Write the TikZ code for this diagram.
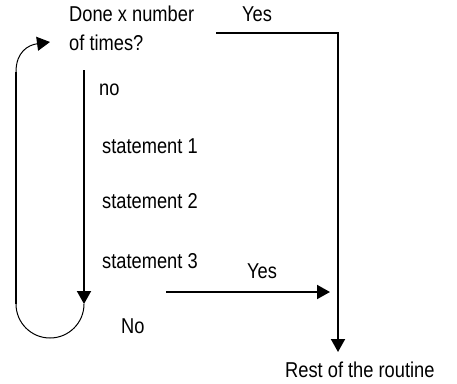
\documentclass[tikz,border=0pt]{standalone}
\usepackage{fontspec}
\setmainfont{Liberation Sans}[FakeStretch=0.85]
\usetikzlibrary{arrows.meta,positioning}
\tikzset{
    %Define standard arrow tip
    >={Triangle[length=13pt,width=14pt]},
    %Define style for the texts
    lbl/.style={
           inner sep=0pt,
           anchor=base west,
           align=left,
           font=\fontsize{21.5}{29}\selectfont},
    % Define line styles
    flow/.style={
           line width=1.9pt},
    roundline/.style={
           line width=1pt}
}
\begin{document}
\begin{tikzpicture}[x=1pt,y=-1pt]
\useasboundingbox (0,0) rectangle (457,383);
\node[lbl](done) at (69,50){Done x number\\of times?};
\node[lbl](yes1) at (242,21){Yes};
\node[lbl](no1) at (99,95){no};
\node[lbl](st1) at (102,153){statement 1};
\node[lbl](st2) at (102,208){statement 2};
\node[lbl](st3) at (102,268){statement 3};
\node[lbl](yes2) at (247,278){Yes};
\node[lbl](no2) at (121,333){No};
\node[lbl](rest) at (285,377){Rest of the routine};
% corners of the connectors
\coordinate (top) at (84,70);
\coordinate (loopR) at (84,304);
\coordinate (loopL) at (16,304);
\coordinate (back) at (16,72);
\coordinate (backtip) at (50,42);
\coordinate (exitA) at (216,33);
\coordinate (corner) at (338,33);
\coordinate (restin) at (338,352);
\coordinate (yesA) at (166,292);
\coordinate (yesB) at (330,292);
% loop
\draw[flow,->] (top) -- (loopR);
\draw[roundline] (loopR) arc[start angle=0,end angle=180,radius=34];
\draw[flow] (loopL) -- (back);
\draw[roundline,->] (back) .. controls (16,52) and (28,45) .. (backtip);
% exits
\draw[flow,->] (exitA) -- (corner) -- (restin);
\draw[flow,->] (yesA) -- (yesB);
\end{tikzpicture}
\end{document}
